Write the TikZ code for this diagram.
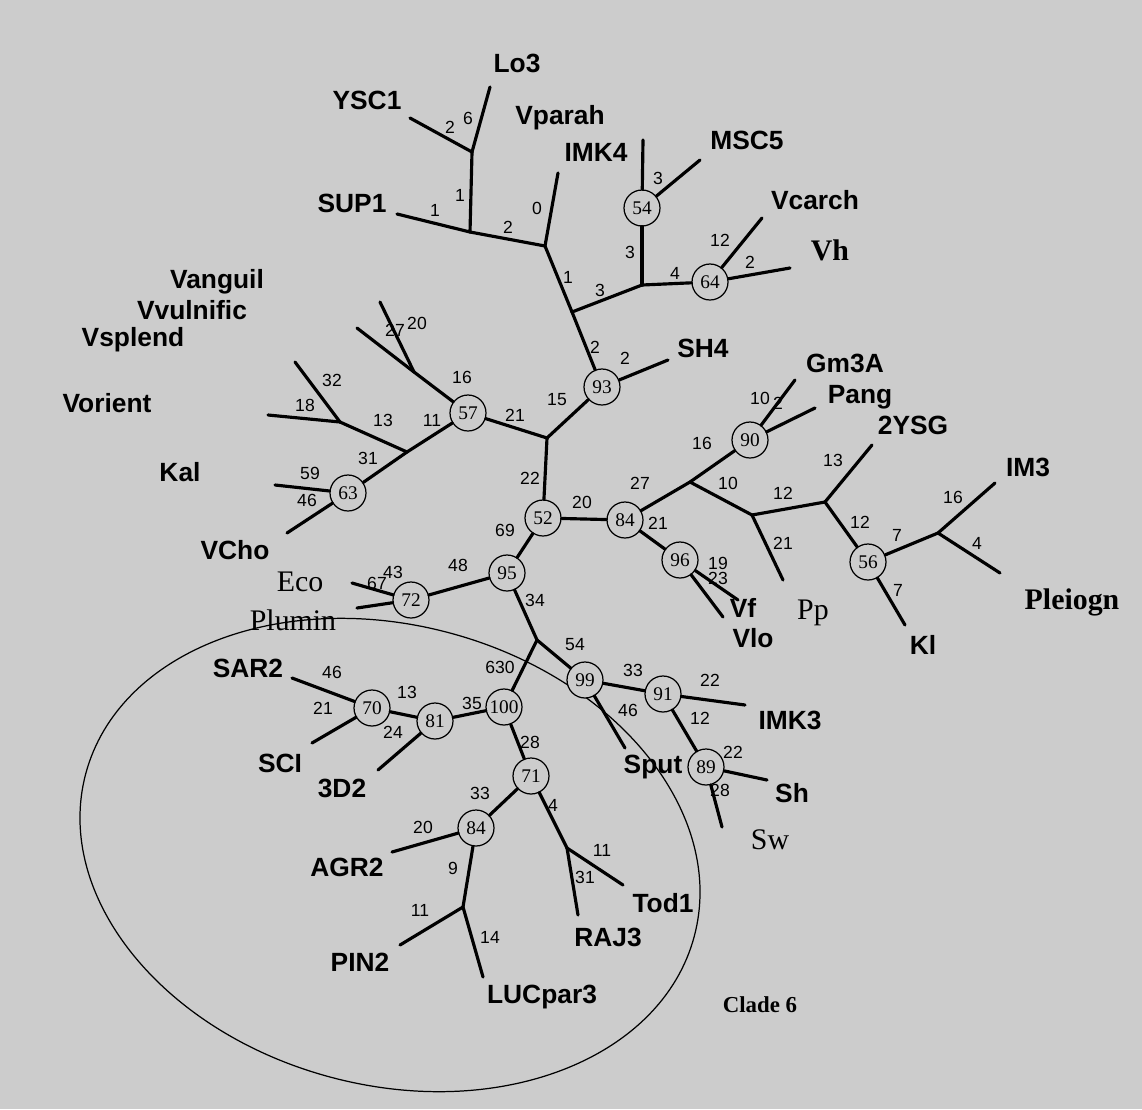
\documentclass[tikz,border=0pt]{standalone}
\usepackage{fontspec}
\setmainfont{Liberation Serif}
\setsansfont{Liberation Sans}
\usetikzlibrary{calc}
\definecolor{paper}{gray}{0.80}
\tikzset{
  br/.style={black, line width=1.8pt, line cap=round, line join=round},
  bs/.style={circle, draw, fill=paper, line width=0.7pt, minimum size=0.72cm, inner sep=0pt,
    font=\rmfamily\fontsize{11}{11}\selectfont},
  num/.style={inner sep=0.5pt, font=\sffamily\fontsize{10}{10}\selectfont},
  tip/.style={inner sep=0pt, font=\sffamily\bfseries\fontsize{15}{15}\selectfont},
  sertip/.style={inner sep=0pt, font=\rmfamily\fontsize{17}{17}\selectfont},
}

\begin{document}
\begin{tikzpicture}[x=0.02cm, y=-0.02cm]
\fill[paper] (0,0) rectangle (1142,1109);

% clade 6 outline
\draw[line width=0.7pt, rotate around={-15:(390,855)}] (390,855) ellipse [x radius=6.3cm, y radius=4.6cm];

% inner junctions
\foreach \n/\x/\y in {j1/472/152, j2/470/232, j3/545/246, j4/572/312, j5/642/285, j6/547/438,
  j7/414/372, j8/407/452, j9/340/422, j10/537/640, j11/463/907, j12/567/848,
  j13/690/482, j14/752/515, j15/825/502, j16/938/533}
  \coordinate (\n) at (\x,\y);

% bootstrap values
\foreach \n/\x/\y/\t in {b54/642/208/54, b64/710/282/64, b93/602/387/93, b57/468/413/57,
  b63/348/493/63, b52/543/518/52, b84/625/520/84, b90/750/440/90, b56/868/562/56,
  b96/680/560/96, b95/507/573/95, b72/411/600/72, b100/504/707/100, b99/585/680/99,
  b91/663/694/91, b89/706/767/89, b81/435/721/81, b70/372/708/70, b71/531/776/71,
  b84b/476/828/84}
  \node[bs] (\n) at (\x,\y) {\t};

% branch ends
\foreach \n/\x/\y in {tLo3/490/87, tYSC1/410/118, tSUP1/397/214, tVpar/558/173,
  tIMK4/643/140, tMSC5/700/160, tVcarch/762/218, tVh/790/268, tSH4/668/360,
  tGm3A/795/380, tPang/815/408, t2YSG/872/445, tPp/783/580, tIM3/995/483,
  tPlei/1000/573, tKl/905/625, tVf/738/600, tVlo/723/617, tA/357/328, tB/380/302,
  tC/268/415, tD/295/362, tE/275/485, tF/287/533, tEco/352/583, tPlu/357/608,
  tSAR2/292/678, tSCI/312/743, t3D2/378/770, tIMK3/745/705, tSh/767/780, tSw/722/827,
  tSput/625/748, tAGR2/392/852, tPIN2/400/945, tLUC/483/977, tTod1/623/885, tRAJ3/578/915}
  \coordinate (\n) at (\x,\y);

% branches
\foreach \a/\b in {j1/tLo3, j1/tYSC1, j1/j2, j2/tSUP1, j2/j3, j3/tVpar, j3/j4, j4/j5,
  j5/b54, b54/tIMK4, b54/tMSC5, j5/b64, b64/tVcarch, b64/tVh, j4/b93, b93/tSH4, b93/j6,
  j6/b57, b57/j7, j7/tA, j7/tB, b57/j8, j8/j9, j9/tC, j9/tD, j8/b63, b63/tE, b63/tF,
  j6/b52, b52/b84, b52/b95, b84/j13, j13/b90, b90/tGm3A, b90/tPang, j13/j14, j14/tPp,
  j14/j15, j15/t2YSG, j15/b56, b56/j16, j16/tIM3, j16/tPlei, b56/tKl, b84/b96, b96/tVf,
  b96/tVlo, b95/b72, b72/tEco, b72/tPlu, b95/j10, j10/b100, j10/b99, b99/b91, b91/tIMK3,
  b91/b89, b89/tSh, b89/tSw, b99/tSput, b100/b81, b81/b70, b70/tSAR2, b70/tSCI, b81/t3D2,
  b100/b71, b71/b84b, b84b/tAGR2, b84b/j11, j11/tPIN2, j11/tLUC, b71/j12, j12/tTod1,
  j12/tRAJ3}
  \draw[br] (\a) -- (\b);

% branch lengths
\foreach \x/\y/\t [count=\i] in {450/127/2, 468/118/6, 460/195/1, 435/210/1, 508/227/2,
  537/208/0, 568/277/1, 600/290/3, 630/252/3, 658/178/3, 675/273/4, 720/240/12, 750/262/2,
  595/347/2, 625/358/2, 557/400/15, 515/415/21, 462/377/16, 395/330/27, 417/323/20,
  432/420/11, 383/420/13, 305/405/18, 332/380/32, 368/458/31, 310/473/59, 307/500/46,
  530/478/22, 582/502/20, 505/530/69, 458/565/48, 393/572/43, 377/583/67, 535/600/34,
  500/667/630, 575/645/54, 633/670/33, 710/680/22, 700/718/12, 733/752/22, 720/790/28,
  628/710/46, 472/703/35, 407/692/13, 393/732/24, 332/672/46, 323/708/21, 530/742/28,
  480/793/33, 423/827/20, 453/868/9, 420/910/11, 490/937/14, 553/805/4, 602/850/11,
  585/877/31, 640/483/27, 702/443/16, 760/398/10, 778/403/2, 728/483/10, 783/543/21,
  783/493/12, 833/460/13, 860/522/12, 897/535/7, 953/497/16, 977/543/4, 898/590/7,
  658/523/21, 718/563/19, 718/578/23}
  \node[num] (w\i) at (\x,\y) {\t};

% taxa
\foreach \n/\x/\y in {Lo3/517/63, YSC1/367/100, SUP1/352/203, Vparah/560/118, IMK4/596/152,
  MSC5/747/140, Vcarch/815/200, SH4/703/348, Gm3A/845/363, Pang/860/397, 2YSG/913/425,
  IM3/1028/467, Kl/923/645, Vf/743/608, Vlo/753/638, Vanguil/217/282, Vvulnific/192/310,
  Vsplend/133/340, Vorient/107/403, Kal/180/472, VCho/235/550, SAR2/248/668, SCI/280/763,
  3D2/342/788, AGR2/347/867, PIN2/360/962, LUCpar3/542/997, RAJ3/608/937, Tod1/663/903,
  Sput/653/767, IMK3/790/720, Sh/792/793}
  \node[tip] (\n) at (\x,\y) {\n};
\foreach \n/\x/\y in {Pp/813/613, Eco/300/582, Plumin/293/620, Sw/770/840}
  \node[sertip] (\n) at (\x,\y) {\n};
\node[sertip, font=\rmfamily\bfseries\fontsize{17}{17}\selectfont] (Vh) at (830,250) {Vh};
\node[sertip, font=\rmfamily\bfseries\fontsize{17}{17}\selectfont] (Pleiogn) at (1072,602) {Pleiogn};
\node[sertip, font=\rmfamily\bfseries\fontsize{13}{13}\selectfont] (clade) at (760,1005) {Clade 6};
\end{tikzpicture}
\end{document}
